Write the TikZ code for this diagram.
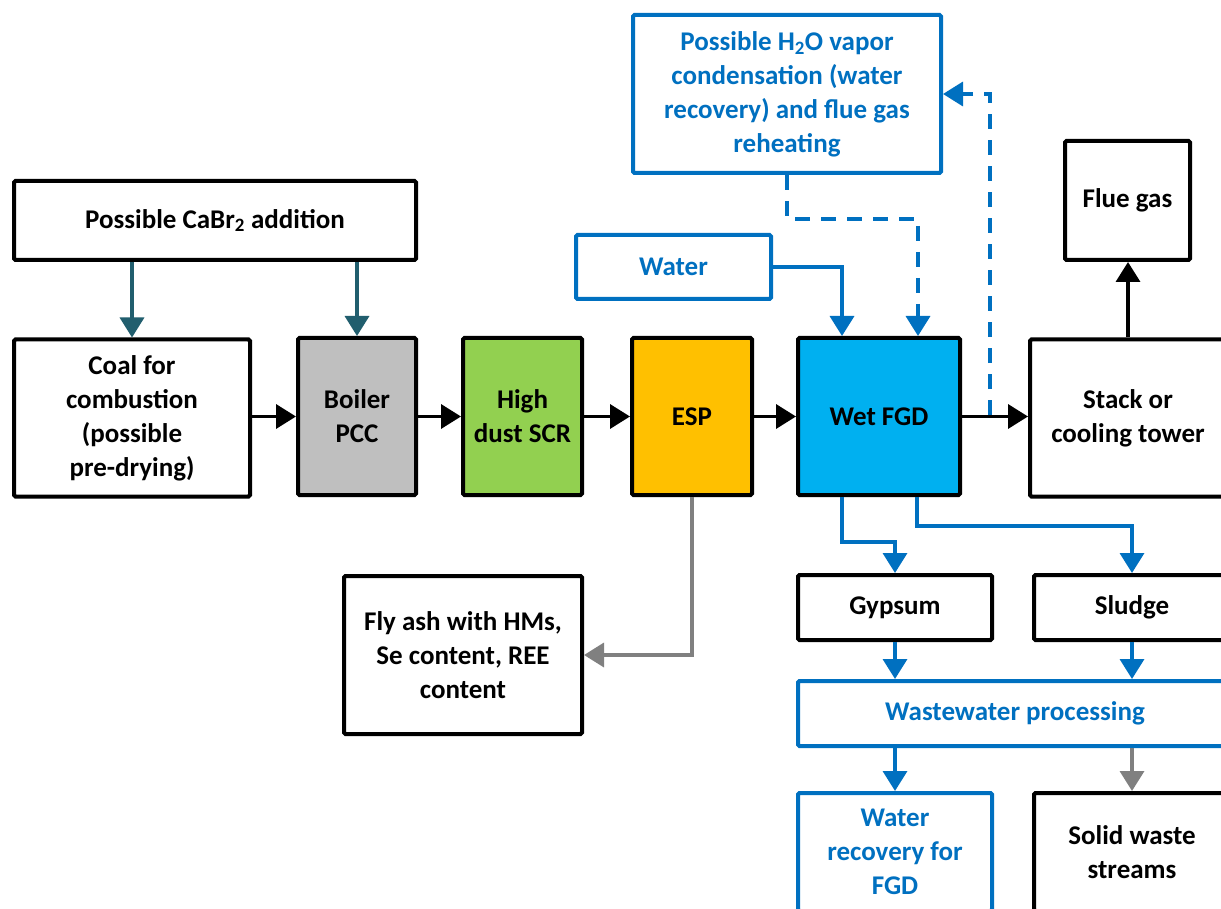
\documentclass[tikz,border=0pt]{standalone}
\usepackage{fontspec}
\setmainfont{Carlito}
\usetikzlibrary{arrows.meta,calc}
\definecolor{cblue}{RGB}{0,112,192}
\definecolor{cteal}{RGB}{33,94,110}
\definecolor{cgrayarr}{RGB}{128,128,128}
\definecolor{cboil}{RGB}{191,191,191}
\definecolor{cscr}{RGB}{146,208,80}
\definecolor{cesp}{RGB}{255,192,0}
\definecolor{cfgd}{RGB}{0,176,240}
\begin{document}
\begin{tikzpicture}[x=1pt,y=-1pt,
  box/.style={draw=black,line width=4pt,rounded corners=1.5pt,align=center,inner sep=0pt,
     font=\fontsize{27}{34}\selectfont\bfseries},
  bbox/.style={box,draw=cblue,text=cblue},
  arr/.style={line width=3.5pt,-{Triangle[length=20pt,width=24pt]}},
  barr/.style={arr,draw=cblue},
  dbarr/.style={barr,dash pattern=on 15pt off 11pt},
  tarr/.style={arr,draw=cteal},
  garr/.style={arr,draw=cgrayarr}]
\useasboundingbox (0,0) rectangle (1221,909);
\fill[white] (0,0) rectangle (1221,909);
\node[box,minimum width=402,minimum height=79] (cabr) at (215,220.5) {Possible CaBr\textsubscript{2} addition};
\node[box,minimum width=236,minimum height=157] (coal) at (132,418) {Coal for\\combustion\\(possible\\pre-drying)};
\node[box,fill=cboil,minimum width=118,minimum height=157] (boil) at (357,416.5) {Boiler\\PCC};
\node[box,fill=cscr,minimum width=119,minimum height=157] (scr) at (522.5,416.5) {High\\dust SCR};
\node[box,fill=cesp,minimum width=120,minimum height=157] (esp) at (692,416.5) {ESP};
\node[box,fill=cfgd,minimum width=162,minimum height=157] (fgd) at (879,416.5) {Wet FGD};
\node[box,minimum width=196,minimum height=157] (stack) at (1128,418) {Stack or\\cooling tower};
\node[box,minimum width=125,minimum height=119] (flue) at (1127.5,200.5) {Flue gas};
\node[bbox,minimum width=308,minimum height=158] (h2o) at (787,94) {Possible H\textsubscript{2}O vapor\\condensation (water\\recovery) and flue gas\\reheating};
\node[bbox,minimum width=195,minimum height=64] (water) at (673.5,267) {Water};
\node[box,minimum width=238,minimum height=158] (fly) at (463,655) {Fly ash with HMs,\\Se content, REE\\content};
\node[box,minimum width=194,minimum height=65] (gyp) at (895,607.5) {Gypsum};
\node[box,minimum width=196,minimum height=65] (sludge) at (1132,607.5) {Sludge};
\node[bbox,minimum width=434,minimum height=65] (ww) at (1015,713.5) {Wastewater processing};
\node[bbox,minimum width=194,minimum height=118] (wr) at (895,852) {Water\\recovery for\\FGD};
\node[box,minimum width=196,minimum height=118] (solid) at (1132,852) {Solid waste\\streams};
% main line
\draw[arr] (coal.east |- boil.west) -- (boil);
\draw[arr] (boil) -- (scr);
\draw[arr] (scr) -- (esp);
\draw[arr] (esp) -- (fgd);
\draw[arr] (fgd) -- (stack.west |- fgd.east);
\draw[arr] (stack.north) -- (flue.south -| stack.north);
% CaBr2
\draw[tarr] (coal.north |- cabr.south) -- (coal.north);
\draw[tarr] (boil.north |- cabr.south) -- (boil.north);
% water inputs
\draw[barr] (water.east) -| ([xshift=-37pt]fgd.north);
\draw[dbarr] (h2o.south) -- ++(0,44) -| ([xshift=39pt]fgd.north);
\coordinate (tap) at (990,415);
\draw[dbarr] (tap) |- (h2o.east);
% FGD outputs
\draw[barr] ([xshift=-37pt]fgd.south) -- ++(0,45) -| (gyp.north);
\draw[barr] ([xshift=38pt]fgd.south) -- ++(0,29) -| (sludge.north);
\draw[barr] (gyp.south) -- (gyp.south |- ww.north);
\draw[barr] (sludge.south) -- (sludge.south |- ww.north);
\draw[barr] (wr.north |- ww.south) -- (wr.north);
\draw[garr] (solid.north |- ww.south) -- (solid.north);
% ESP to fly ash
\draw[garr] (esp.south) |- (fly.east);
\end{tikzpicture}
\end{document}
